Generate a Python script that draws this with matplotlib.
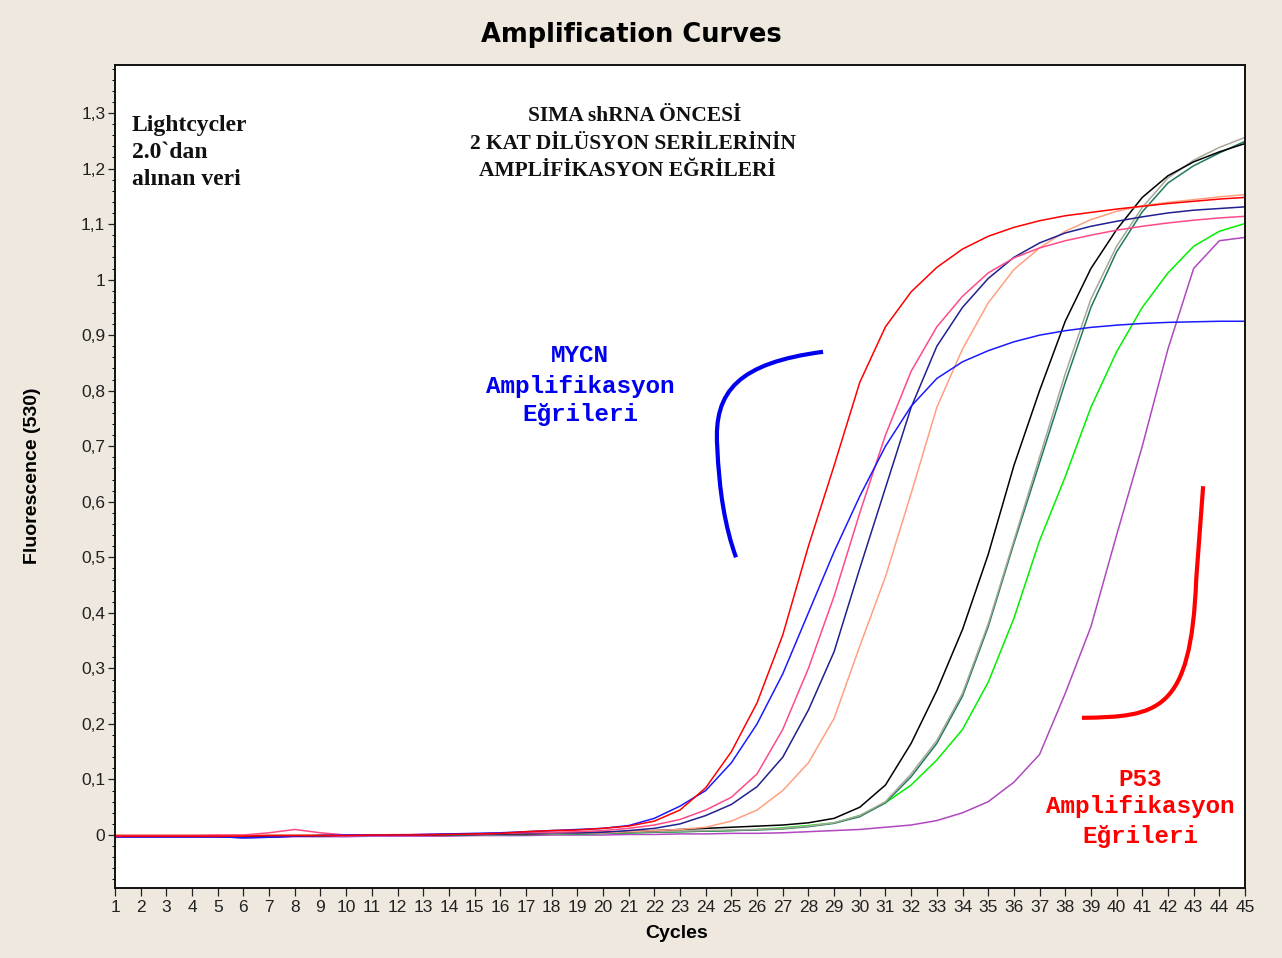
import numpy as np
import matplotlib
matplotlib.use("Agg")
from matplotlib import pyplot as plt
from matplotlib.path import Path
from matplotlib.patches import PathPatch
from matplotlib.ticker import MultipleLocator, FuncFormatter

# fluorescence (530) per cycle, one list per sample
cycles = list(range(1, 46))

red = [-0.002, -0.002, -0.002, -0.002, -0.002, -0.002, -0.001, -0.001, -0.001, -0.001,
       0.0, 0.0, 0.0, 0.001, 0.002, 0.003, 0.006, 0.008, 0.009,
       0.012, 0.016, 0.025, 0.045, 0.085, 0.15, 0.238, 0.36, 0.52, 0.665,
       0.815, 0.915, 0.978, 1.022, 1.055, 1.078, 1.094, 1.106, 1.115, 1.121,
       1.127, 1.132, 1.137, 1.141, 1.145, 1.148]
blue = [-0.003, -0.003, -0.003, -0.003, -0.003, -0.005, -0.004, -0.002, -0.001, 0.0,
        0.0, 0.0, 0.001, 0.002, 0.003, 0.004, 0.006, 0.008, 0.01,
        0.012, 0.017, 0.03, 0.052, 0.08, 0.13, 0.2, 0.29, 0.4, 0.51,
        0.61, 0.7, 0.772, 0.822, 0.852, 0.872, 0.888, 0.9, 0.908, 0.914,
        0.918, 0.921, 0.923, 0.924, 0.925, 0.925]
pink = [-0.001, -0.001, -0.001, -0.001, 0.0, 0.0, 0.004, 0.01, 0.004, 0.0,
        0.0, 0.0, 0.001, 0.002, 0.002, 0.003, 0.004, 0.005, 0.006,
        0.008, 0.012, 0.018, 0.028, 0.045, 0.068, 0.11, 0.19, 0.3, 0.43,
        0.58, 0.72, 0.835, 0.915, 0.97, 1.012, 1.039, 1.057, 1.07, 1.08,
        1.089, 1.096, 1.102, 1.107, 1.111, 1.114]
navy = [-0.003, -0.003, -0.003, -0.003, -0.003, -0.005, -0.004, -0.002, -0.001, 0.0,
        0.0, 0.0, 0.0, 0.001, 0.001, 0.002, 0.003, 0.004, 0.004,
        0.005, 0.008, 0.012, 0.02, 0.035, 0.055, 0.087, 0.14, 0.225, 0.33,
        0.48, 0.625, 0.77, 0.88, 0.95, 1.002, 1.04, 1.066, 1.084, 1.096,
        1.105, 1.113, 1.12, 1.125, 1.128, 1.131]
salmon = [0.0, 0.0, 0.0, 0.0, 0.0, 0.0, 0.0, 0.0, 0.0, 0.0,
          0.0, 0.001, 0.001, 0.002, 0.002, 0.003, 0.003, 0.003, 0.004,
          0.004, 0.006, 0.008, 0.01, 0.014, 0.025, 0.045, 0.08, 0.13, 0.21,
          0.34, 0.465, 0.615, 0.77, 0.875, 0.958, 1.018, 1.057, 1.087, 1.108,
          1.123, 1.133, 1.139, 1.144, 1.149, 1.153]
black = [-0.002, -0.002, -0.002, -0.002, -0.002, -0.002, -0.002, -0.001, -0.001, 0.0,
         0.0, 0.0, 0.0, 0.001, 0.001, 0.002, 0.002, 0.003, 0.004,
         0.005, 0.006, 0.008, 0.01, 0.012, 0.014, 0.016, 0.018, 0.022, 0.03,
         0.05, 0.09, 0.165, 0.26, 0.37, 0.505, 0.665, 0.8, 0.925, 1.02,
         1.09, 1.148, 1.187, 1.212, 1.23, 1.245]
gray = [-0.001, -0.001, -0.001, -0.001, -0.001, -0.001, -0.001, 0.0, 0.0, 0.0,
        0.0, 0.0, 0.0, 0.001, 0.001, 0.001, 0.002, 0.002, 0.003,
        0.004, 0.005, 0.006, 0.007, 0.008, 0.009, 0.01, 0.012, 0.016, 0.022,
        0.035, 0.06, 0.11, 0.17, 0.255, 0.38, 0.53, 0.68, 0.83, 0.965,
        1.06, 1.13, 1.183, 1.215, 1.238, 1.256]
teal = [-0.002, -0.002, -0.002, -0.002, -0.002, -0.002, -0.001, -0.001, -0.001, 0.0,
        0.0, 0.0, 0.0, 0.0, 0.001, 0.001, 0.001, 0.002, 0.002,
        0.003, 0.004, 0.005, 0.006, 0.007, 0.008, 0.009, 0.011, 0.015, 0.021,
        0.033, 0.058, 0.105, 0.165, 0.25, 0.375, 0.525, 0.67, 0.815, 0.95,
        1.05, 1.122, 1.174, 1.205, 1.228, 1.249]
green = [-0.001, -0.001, -0.001, -0.001, -0.001, -0.001, -0.001, 0.0, 0.0, 0.0,
         0.0, 0.0, 0.0, 0.0, 0.001, 0.001, 0.001, 0.002, 0.002,
         0.003, 0.004, 0.005, 0.006, 0.007, 0.008, 0.01, 0.013, 0.017, 0.022,
         0.035, 0.058, 0.09, 0.135, 0.19, 0.275, 0.39, 0.53, 0.645, 0.77,
         0.87, 0.95, 1.012, 1.06, 1.087, 1.101]
purple = [-0.004, -0.004, -0.004, -0.004, -0.004, -0.004, -0.004, -0.003, -0.003, -0.003,
          -0.002, -0.002, -0.002, -0.002, -0.001, -0.001, -0.001, 0.0, 0.0,
          0.0, 0.001, 0.001, 0.002, 0.002, 0.003, 0.003, 0.004, 0.006, 0.008,
          0.01, 0.014, 0.018, 0.026, 0.04, 0.06, 0.095, 0.145, 0.255, 0.375,
          0.54, 0.7, 0.875, 1.02, 1.07, 1.076]

samples = [
    (purple, "#B048C0"),
    (green, "#00F000"),
    (teal, "#1E7A5E"),
    (gray, "#A8A898"),
    (black, "#000000"),
    (salmon, "#FFA080"),
    (navy, "#202090"),
    (pink, "#FF4A8A"),
    (blue, "#1A1AFF"),
    (red, "#FF0000"),
]

y_ticks = [0.0, 0.1, 0.2, 0.3, 0.4, 0.5, 0.6, 0.7, 0.8, 0.9, 1.0, 1.1, 1.2, 1.3]

BG = "#EEE8DF"
W, H = 1282, 958


def fx(px):
    return px / W


def fy(py):
    return 1 - py / H


def comma_fmt(v, pos):
    if abs(v - round(v)) < 1e-9:
        return "%d" % round(v)
    return ("%.1f" % v).replace(".", ",")


fig = plt.figure(figsize=(W / 100, H / 100), dpi=100, facecolor=BG)
ax = fig.add_axes([fx(115), fy(888), fx(1245) - fx(115), fy(65) - fy(888)])
ax.set_facecolor("white")

for values, color in samples:
    ax.plot(cycles, values, color=color, lw=1.1, solid_joinstyle="round")

ax.set_xlim(1, 45)
ax.set_ylim(-0.0954, 1.3864)
ax.set_xticks(cycles)
ax.set_yticks(y_ticks)
ax.yaxis.set_minor_locator(MultipleLocator(0.02))
ax.yaxis.set_major_formatter(FuncFormatter(comma_fmt))

ax.tick_params(axis="x", direction="out", length=6, width=0.9, pad=3,
               labelsize=12.5, colors="#222222")
ax.tick_params(axis="y", which="major", direction="out", length=5, width=0.9,
               pad=2, labelsize=12.5, colors="#222222")
ax.tick_params(axis="y", which="minor", direction="out", length=2.5, width=0.7)
for lab in ax.get_xticklabels() + ax.get_yticklabels():
    lab.set_family("Liberation Sans")

for side in ["left", "bottom", "top", "right"]:
    ax.spines[side].set_color("#111111")
    ax.spines[side].set_linewidth(1.4)

# hand-drawn pointer strokes
mycn_path = Path(
    [(28.57, 0.870), (25.3, 0.85), (24.3, 0.80), (24.45, 0.70),
     (24.55, 0.58), (25.18, 0.50)],
    [Path.MOVETO, Path.CURVE4, Path.CURVE4, Path.CURVE4, Path.CURVE3, Path.CURVE3])
ax.add_patch(PathPatch(mycn_path, fill=False, edgecolor="#0000F0", lw=3.0,
                       capstyle="butt"))

p53_path = Path(
    [(38.65, 0.211), (41.6, 0.213), (42.9, 0.22), (43.1, 0.46), (43.37, 0.628)],
    [Path.MOVETO, Path.CURVE4, Path.CURVE4, Path.CURVE4, Path.LINETO])
ax.add_patch(PathPatch(p53_path, fill=False, edgecolor="#FF0000", lw=3.0,
                       capstyle="butt"))

# titles and labels
fig.text(fx(631), fy(35), "Amplification Curves", ha="center", va="center",
         fontsize=18.5, fontweight="bold", family="DejaVu Sans")
fig.text(fx(33), fy(476), "Fluorescence (530)", ha="center", va="center",
         rotation=90, fontsize=14, fontweight="bold", family="Liberation Sans")
fig.text(fx(677), fy(933), "Cycles", ha="center", va="center",
         fontsize=14, fontweight="bold", family="Liberation Sans")

serif = dict(family="Liberation Serif", fontweight="bold", color="#111111")
for line, ypx in zip(["Lightcycler", "2.0`dan", "alınan veri"], [125, 152, 179]):
    fig.text(fx(132), fy(ypx), line, ha="left", va="center", fontsize=17, **serif)

for line, xpx, ypx in zip(["SIMA shRNA ÖNCESİ", "2 KAT DİLÜSYON SERİLERİNİN",
                           "AMPLİFİKASYON EĞRİLERİ"],
                          [635, 633, 627], [116, 144, 171]):
    fig.text(fx(xpx), fy(ypx), line, ha="center", va="center", fontsize=15.5, **serif)

mono = dict(family="Liberation Mono", fontweight="bold", fontsize=17.5,
            ha="center", va="center")
for line, ypx in zip(["MYCN", "Amplifikasyon", "Eğrileri"], [356, 386, 415]):
    fig.text(fx(580), fy(ypx), line, color="#0000F0", **mono)
for line, ypx in zip(["P53", "Amplifikasyon", "Eğrileri"], [779, 807, 836]):
    fig.text(fx(1140), fy(ypx), line, color="#FF0000", **mono)

fig.savefig("out.png", dpi=100, facecolor=BG)
